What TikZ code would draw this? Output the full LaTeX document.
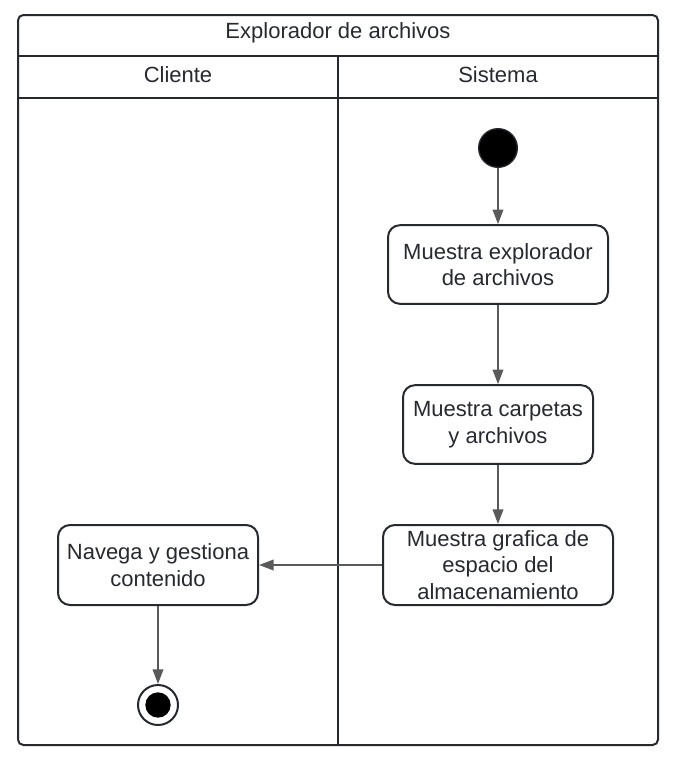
\documentclass[tikz,border=0pt]{standalone}
\usepackage{fontspec}
\setmainfont{Liberation Sans}
\usetikzlibrary{arrows.meta}
\definecolor{lineclr}{HTML}{262A30}
\definecolor{arrclr}{HTML}{5A5A5A}
\begin{document}
\begin{tikzpicture}[
        x=0.75pt, y=-0.75pt,
        lane/.style={draw=lineclr, line width=1.5pt},
        head/.style={font=\fontsize{16.5}{20}\selectfont, text=lineclr},
        action/.style={rectangle, rounded corners=9pt, draw=lineclr, line width=1.5pt, fill=white, align=center, inner sep=0pt, font=\fontsize{16.5}{20}\selectfont, text=lineclr},
        initial/.style={circle, fill=black, draw=lineclr, line width=1pt, minimum size=29pt, inner sep=0pt},
        final/.style={circle, draw=lineclr, line width=1.5pt, minimum size=30pt, inner sep=0pt},
        arrow/.style={-{Triangle[length=11pt, width=8pt]}, draw=arrclr, fill=arrclr, line width=1.2pt}
    ]
    \useasboundingbox (0,0) rectangle (678,764);

    % swimlanes
    \draw[lane, rounded corners=4pt] (18,15) rectangle (658,745);
    \draw[lane] (18,56) -- (658,56);
    \draw[lane] (18,98) -- (658,98);
    \draw[lane] (338,56) -- (338,745);
    \node[head] (title) at (338,33) {Explorador de archivos};
    \node[head] (cliente) at (178,75) {Cliente};
    \node[head] (sistema) at (498,75) {Sistema};

    % nodes
    \node[initial] (start) at (498,148) {};
    \node[action, minimum width=165pt, minimum height=59pt] (show) at (498,264.5) {Muestra explorador\\de archivos};
    \node[action, minimum width=142.5pt, minimum height=59pt] (folders) at (498,424.5) {Muestra carpetas\\y archivos};
    \node[action, minimum width=172.5pt, minimum height=60pt] (graph) at (498,565) {Muestra grafica de\\espacio del\\almacenamiento};
    \node[action, minimum width=150pt, minimum height=60pt] (nav) at (158,565) {Navega y gestiona\\contenido};
    \node[final] (end) at (158,705) {};
    \node[circle, fill=black, minimum size=19pt, inner sep=0pt] (endin) at (end) {};

    % flows
    \draw[arrow] (start) -- (show);
    \draw[arrow] (show) -- (folders);
    \draw[arrow] (folders) -- (graph);
    \draw[arrow] (graph) -- (nav);
    \draw[arrow] (nav) -- (end);

\end{tikzpicture}
\end{document}
